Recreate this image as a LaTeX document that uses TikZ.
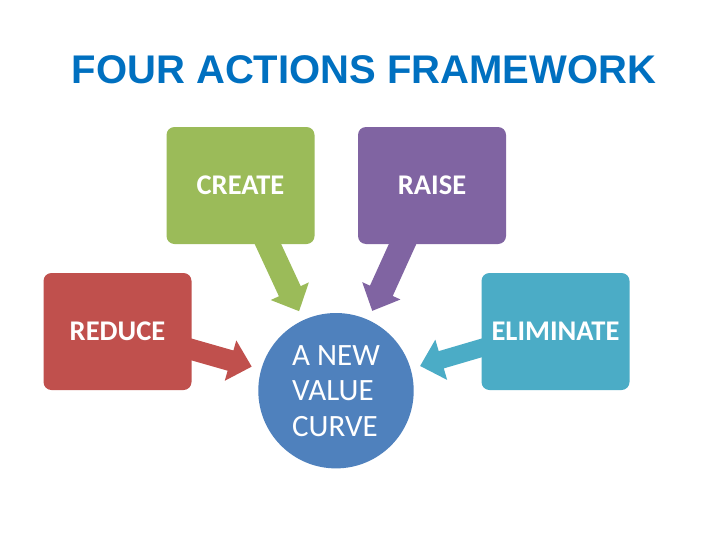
\documentclass[tikz,border=0pt]{standalone}
\usepackage{fontspec}
\setmainfont{Carlito}
\newfontfamily\titlefont{Liberation Sans}
\usetikzlibrary{calc}
\definecolor{titleblue}{HTML}{0070C0}
\definecolor{cgreen}{HTML}{9BBB59}
\definecolor{cpurple}{HTML}{8064A2}
\definecolor{cred}{HTML}{C0504D}
\definecolor{cteal}{HTML}{4BACC6}
\definecolor{cblue}{HTML}{4F81BD}
\pgfdeclarelayer{back}
\pgfdeclarelayer{paper}
\pgfsetlayers{paper,back,main}
% #1 tail coordinate, #2 colour, #3 half shaft width, #4 prefix
\newcommand\fatArrow[4]{%
  \coordinate (#4P) at ($(curve.center)!87.7pt!(#1)$);
  \coordinate (#4T) at ($(#1)!-14pt!(#4P)$);
  \coordinate (#4B) at ($(#4P)!22pt!(#4T)$);
  \fill[#2] ($(#4T)!#3!90:(#4P)$) -- ($(#4B)!#3!90:(#4P)$) -- ($(#4B)!21pt!90:(#4P)$)
     -- (#4P) -- ($(#4B)!21pt!-90:(#4P)$) -- ($(#4B)!#3!-90:(#4P)$) -- ($(#4T)!#3!-90:(#4P)$) -- cycle;
}
\tikzset{
  actionbox/.style={rectangle, rounded corners=8pt, minimum width=148pt, minimum height=117pt,
    inner sep=0pt, text=white, font=\bfseries\fontsize{28.5}{34}\selectfont},
}
\begin{document}
\begin{tikzpicture}[x=1pt,y=-1pt]
\useasboundingbox (0,0) rectangle (728,546);
\begin{pgfonlayer}{paper}
\fill[white] (0,0) rectangle (728,546);
\end{pgfonlayer}
\node[anchor=base, inner sep=0pt, text=titleblue, font=\titlefont\bfseries\fontsize{40}{48}\selectfont] (title) at (364,83) {FOUR ACTIONS FRAMEWORK};
\node[actionbox, fill=cgreen] (create) at (240.5,185.5) {CREATE};
\node[actionbox, fill=cpurple] (raise) at (432,185.5) {RAISE};
\node[actionbox, fill=cred] (reduce) at (117.5,331.5) {REDUCE};
\node[actionbox, fill=cteal] (elim) at (555.5,331.5) {ELIMINATE};
\node[circle, fill=cblue, minimum size=155.4pt, inner sep=0pt, align=left, text=white,
  font=\fontsize{31}{35.5}\selectfont] (curve) at (336,390.7) {A NEW\\VALUE\\CURVE};
\coordinate (gt) at ($(create.south)+(27.5,0)$);
\coordinate (pt) at ($(raise.south)+(-29.5,0)$);
\coordinate (rt) at ($(reduce.east)+(0,18)$);
\coordinate (et) at ($(elim.west)+(0,16.5)$);
\begin{pgfonlayer}{back}
\fatArrow{gt}{cgreen}{12pt}{g}
\fatArrow{pt}{cpurple}{12.5pt}{p}
\fatArrow{rt}{cred}{10.5pt}{r}
\fatArrow{et}{cteal}{9pt}{e}
\end{pgfonlayer}
\end{tikzpicture}
\end{document}
